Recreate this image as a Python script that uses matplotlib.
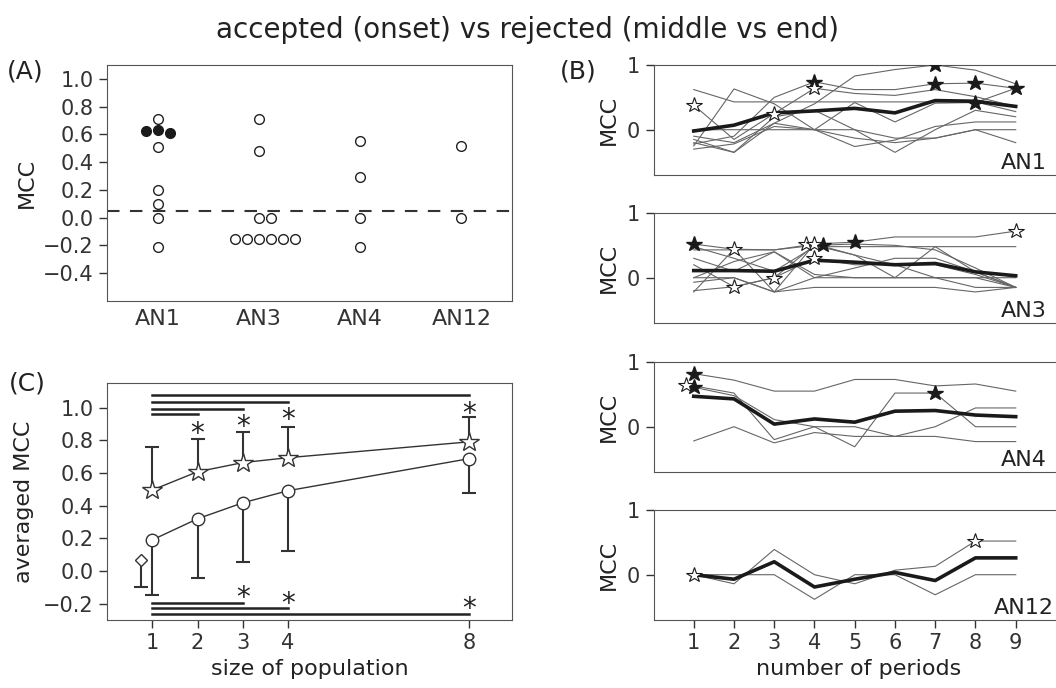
import matplotlib
matplotlib.use('Agg')
import matplotlib.pyplot as plt
import numpy as np

plt.rcParams['font.family'] = 'DejaVu Sans'
plt.rcParams['axes.edgecolor'] = '#555555'
plt.rcParams['xtick.color'] = '#333333'
plt.rcParams['ytick.color'] = '#333333'
plt.rcParams['text.color'] = '#222222'
plt.rcParams['axes.labelcolor'] = '#222222'

# ---- (A) MCC per animal
groups = ['AN1', 'AN3', 'AN4', 'AN12']
open_mcc = [[0.71, 0.51, 0.20, 0.10, 0.0, -0.21],
            [0.71, 0.48, 0.0, 0.0, -0.15, -0.15, -0.15, -0.15, -0.15, -0.15],
            [0.55, 0.29, 0.0, -0.21],
            [0.52, 0.0]]
filled_mcc = [[0.633, 0.611, 0.625], [], [], []]
chance_level = 0.05

# ---- (C) averaged MCC vs population size
pop_size = [1, 2, 3, 4, 8]
acc_mean = [0.495, 0.607, 0.663, 0.693, 0.79]
acc_top = [0.759, 0.806, 0.853, 0.879, 0.945]
rej_mean = [0.19, 0.319, 0.417, 0.491, 0.687]
rej_bottom = [-0.145, -0.04, 0.056, 0.123, 0.475]
single_x = 0.75
single_mean = 0.07
single_bottom = -0.10
sig_top_end = [8, 4, 3, 2]
sig_top_y = [1.078, 1.033, 0.99, 0.959]
ast_top_x = [2, 3, 4, 8]
ast_top_y = [0.892, 0.935, 0.973, 1.01]
sig_bot_end = [3, 4, 8]
sig_bot_y = [-0.196, -0.227, -0.261]
ast_bot_x = [3, 4, 8]
ast_bot_y = [-0.114, -0.149, -0.182]

# ---- (B) MCC vs number of periods
periods = [1, 2, 3, 4, 5, 6, 7, 8, 9]
an1_lines = [
    [-0.15, -0.35, 0.10, 0.40, 0.83, 0.93, 1.00, 0.92, 0.71],
    [0.62, 0.43, 0.43, 0.43, 0.43, 0.43, 0.43, 0.43, 0.28],
    [-0.22, -0.10, 0.50, 0.74, 0.62, 0.62, 0.71, 0.72, 0.64],
    [0.38, -0.15, 0.25, 0.64, 0.56, 0.53, 0.62, 0.51, 0.36],
    [-0.25, 0.63, 0.40, 0.00, -0.13, -0.20, -0.13, 0.00, -0.20],
    [0.00, 0.00, 0.00, 0.00, 0.00, -0.13, -0.13, 0.00, 0.00],
    [-0.30, -0.22, 0.05, 0.00, 0.42, 0.12, 0.41, 0.42, 0.64],
    [-0.20, -0.35, 0.20, 0.30, 0.00, -0.35, 0.00, 0.30, 0.20],
    [-0.10, -0.20, 0.10, 0.00, -0.26, -0.16, 0.05, 0.12, 0.12],
]
an1_mean = [-0.02, 0.07, 0.26, 0.29, 0.33, 0.26, 0.45, 0.44, 0.36]
an1_open = ([1, 3, 4], [0.38, 0.25, 0.64])
an1_filled = ([4, 7, 7, 8, 8, 9], [0.74, 1.0, 0.71, 0.72, 0.42, 0.64])

an3_lines = [
    [0.52, 0.44, 0.43, 0.52, 0.55, 0.63, 0.63, 0.63, 0.72],
    [0.43, 0.43, 0.43, 0.50, 0.52, 0.50, 0.43, 0.15, -0.15],
    [0.30, 0.10, 0.40, 0.05, 0.00, 0.00, 0.00, 0.00, -0.15],
    [0.00, 0.25, 0.40, 0.00, 0.15, 0.30, 0.30, 0.09, -0.15],
    [-0.22, 0.44, -0.22, 0.52, 0.35, 0.00, 0.48, 0.09, -0.15],
    [-0.20, -0.14, 0.00, 0.30, 0.20, 0.20, 0.20, 0.05, -0.15],
    [-0.07, 0.00, -0.22, -0.15, -0.15, -0.15, -0.15, -0.22, -0.15],
    [0.20, -0.14, 0.00, 0.50, 0.35, 0.20, 0.00, 0.00, 0.00],
    [0.00, 0.00, -0.22, 0.00, 0.00, 0.00, 0.00, -0.15, -0.15],
    [0.48, 0.30, 0.10, 0.48, 0.48, 0.48, 0.48, 0.48, 0.48],
]
an3_mean = [0.11, 0.11, 0.10, 0.27, 0.24, 0.20, 0.22, 0.09, 0.03]
an3_open = ([2, 2, 3, 3.8, 4.0, 4.0, 9], [0.44, -0.14, 0.0, 0.52, 0.52, 0.30, 0.72])
an3_filled = ([1, 4.2, 5], [0.52, 0.51, 0.55])

an4_lines = [
    [0.82, 0.72, 0.55, 0.55, 0.73, 0.73, 0.63, 0.66, 0.55],
    [0.63, 0.52, -0.20, 0.00, -0.31, 0.52, 0.52, 0.00, 0.00],
    [0.61, 0.48, 0.11, 0.00, 0.00, -0.15, 0.00, 0.29, 0.29],
    [-0.22, 0.00, -0.25, -0.09, -0.15, -0.15, -0.15, -0.23, -0.23],
]
an4_mean = [0.47, 0.43, 0.04, 0.12, 0.07, 0.24, 0.25, 0.18, 0.155]
an4_open = ([0.8], [0.64])
an4_filled = ([1, 1, 7], [0.82, 0.62, 0.52])

an12_lines = [
    [0.00, -0.14, 0.39, 0.00, -0.14, 0.07, 0.13, 0.52, 0.52],
    [0.00, 0.00, 0.00, -0.38, 0.00, 0.00, -0.31, 0.00, 0.00],
]
an12_mean = [0.0, -0.07, 0.20, -0.19, -0.07, 0.035, -0.09, 0.26, 0.26]
an12_open = ([1, 8], [0.0, 0.52])
an12_filled = ([], [])

W, H = 1056, 688
fig = plt.figure(figsize=(W / 100, H / 100), dpi=100)


def rect(left, top, right, bottom):
    return [left / W, 1 - bottom / H, (right - left) / W, (bottom - top) / H]


def swarm_offsets(vals, step=0.118, tol=0.06):
    slots = [0, 1, -1, 2, -2, 3, -3, 4, -4]
    placed = []
    out = []
    for v in vals:
        for s in slots:
            if all(not (abs(v - pv) < tol and s == ps) for pv, ps in placed):
                placed.append((v, s))
                out.append(s * step)
                break
    return out


tick_kw = dict(direction='out', length=6, width=1)

# ---------------- panel A
axA = fig.add_axes(rect(107, 65, 512, 301))
for i, g in enumerate(groups):
    xo = swarm_offsets(open_mcc[i])
    axA.plot(np.array(xo) + i, open_mcc[i], 'o', ms=7, mfc='white', mec='#222222', mew=1, ls='none', zorder=3)
    if filled_mcc[i]:
        xf = swarm_offsets(filled_mcc[i])
        axA.plot(np.array(xf) + i, filled_mcc[i], 'o', ms=7, mfc='#1a1a1a', mec='#1a1a1a', ls='none', zorder=3)
axA.axhline(chance_level, color='#333333', lw=1.5, ls=(0, (6, 5)), zorder=2)
axA.set_xlim(-0.5, 3.5)
axA.set_ylim(-0.6, 1.1)
axA.set_yticks(np.round(np.arange(-0.4, 1.01, 0.2), 1))
axA.set_xticks(range(len(groups)))
axA.set_xticklabels(groups, fontsize=16)
axA.tick_params(axis='x', length=0, pad=6)
axA.tick_params(axis='y', labelsize=15, **tick_kw)
axA.set_ylabel('MCC', fontsize=16)
axA.yaxis.set_label_coords(-0.173, 0.5)

# ---------------- panel C
axC = fig.add_axes(rect(107, 383, 512, 620))
axC.plot(pop_size, acc_mean, '-', color='#333333', lw=1, zorder=2)
axC.plot(pop_size, rej_mean, '-', color='#333333', lw=1, zorder=2)
axC.vlines(pop_size, acc_mean, acc_top, color='#333333', lw=1.5, zorder=1)
axC.plot(pop_size, acc_top, '_', color='#333333', ms=10, mew=1.5, ls='none')
axC.vlines(pop_size, rej_bottom, rej_mean, color='#333333', lw=1.5, zorder=1)
axC.plot(pop_size, rej_bottom, '_', color='#333333', ms=10, mew=1.5, ls='none')
axC.vlines([single_x], [single_bottom], [single_mean], color='#333333', lw=1.5, zorder=1)
axC.plot([single_x], [single_bottom], '_', color='#333333', ms=10, mew=1.5)
axC.plot(pop_size, acc_mean, '*', ms=15, mfc='white', mec='#333333', mew=1, ls='none', zorder=3)
axC.plot(pop_size, rej_mean, 'o', ms=9, mfc='white', mec='#333333', mew=1, ls='none', zorder=3)
axC.plot([single_x], [single_mean], 'D', ms=6.5, mfc='white', mec='#333333', mew=1, zorder=3)
for xe, ys in zip(sig_top_end, sig_top_y):
    axC.plot([pop_size[0], xe], [ys, ys], color='#222222', lw=1.8)
for xe, ys in zip(sig_bot_end, sig_bot_y):
    axC.plot([pop_size[0], xe], [ys, ys], color='#222222', lw=1.8)
for xa, ya in list(zip(ast_top_x, ast_top_y)) + list(zip(ast_bot_x, ast_bot_y)):
    axC.annotate('*', (xa, ya), xytext=(0, -0.59 * 20), textcoords='offset points',
                 ha='center', va='baseline', fontsize=20, color='#222222')
axC.set_xlim(0, 8.95)
axC.set_ylim(-0.3, 1.15)
axC.set_xticks(pop_size)
axC.set_yticks(np.round(np.arange(-0.2, 1.01, 0.2), 1))
axC.tick_params(labelsize=15, **tick_kw)
axC.set_xlabel('size of population', fontsize=16)
axC.set_ylabel('averaged MCC', fontsize=16)
axC.yaxis.set_label_coords(-0.18, 0.5)

# ---------------- panel B
b_data = [
    ('AN1', an1_lines, an1_mean, an1_open, an1_filled, (65, 175)),
    ('AN3', an3_lines, an3_mean, an3_open, an3_filled, (213, 323)),
    ('AN4', an4_lines, an4_mean, an4_open, an4_filled, (362, 472)),
    ('AN12', an12_lines, an12_mean, an12_open, an12_filled, (510, 620)),
]
for k, (name, lines, mean, op, fl, (top, bot)) in enumerate(b_data):
    ax = fig.add_axes(rect(653.5, top, 1064, bot))
    for ln in lines:
        ax.plot(periods, ln, color='#666666', lw=0.8, zorder=1)
    ax.plot(periods, mean, color='#1a1a1a', lw=2.6, zorder=2)
    if fl[0]:
        ax.plot(fl[0], fl[1], '*', ms=11.5, mfc='#1a1a1a', mec='#1a1a1a', ls='none', zorder=3)
    if op[0]:
        ax.plot(op[0], op[1], '*', ms=11.5, mfc='white', mec='#1a1a1a', mew=0.8, ls='none', zorder=3)
    ax.set_xlim(0, 10.2)
    ax.set_ylim(-0.7, 1.0)
    ax.set_yticks([0, 1])
    ax.spines['right'].set_visible(False)
    ax.tick_params(axis='y', labelsize=15, **tick_kw)
    ax.text(9.2, -0.6, name, ha='center', va='baseline', fontsize=16)
    ax.set_ylabel('MCC', fontsize=16)
    ax.yaxis.set_label_coords(-0.084, 0.5)
    if k == len(b_data) - 1:
        ax.set_xticks(periods)
        ax.tick_params(axis='x', labelsize=15, **tick_kw)
        ax.set_xlabel('number of periods', fontsize=16)
    else:
        ax.set_xticks([])

fig.text(0.5, 1 - 30 / H, 'accepted (onset) vs rejected (middle vs end)', ha='center', va='center', fontsize=20)
fig.text(25 / W, 1 - 72 / H, '(A)', ha='center', va='center', fontsize=18)
fig.text(578 / W, 1 - 71 / H, '(B)', ha='center', va='center', fontsize=18)
fig.text(27 / W, 1 - 384 / H, '(C)', ha='center', va='center', fontsize=18)

fig.savefig('out.png', dpi=100)
